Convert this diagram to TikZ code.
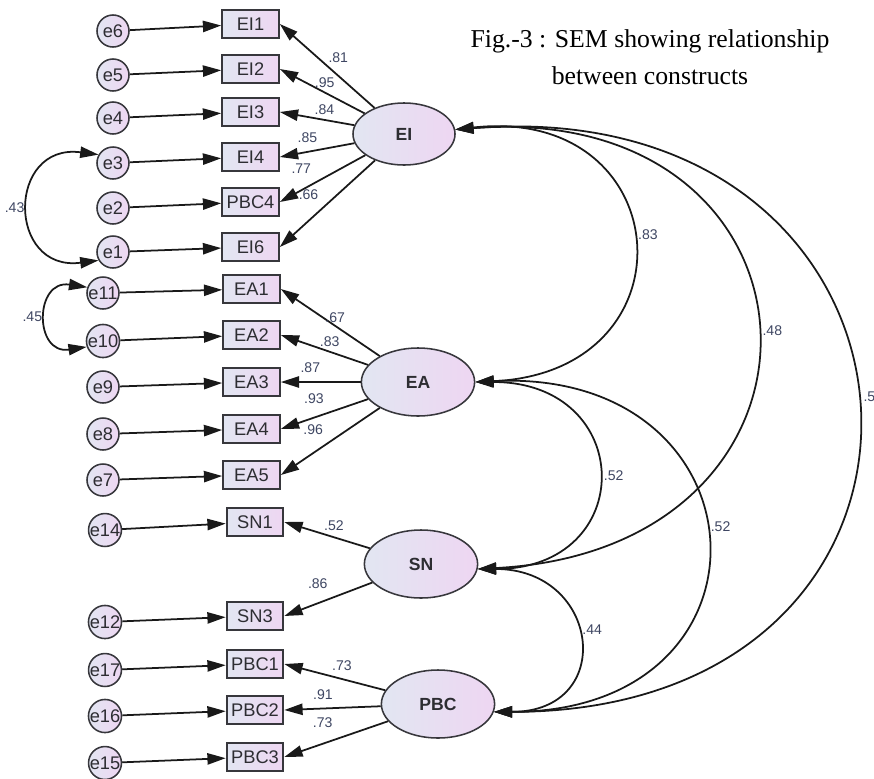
\documentclass[tikz,border=0pt]{standalone}
\usepackage{fontspec}
\setmainfont{Liberation Serif}
\setsansfont{Liberation Sans}
\usepackage{tikz}
\usetikzlibrary{shapes.geometric, positioning, arrows.meta}

\definecolor{linec}{RGB}{25,25,25}
\definecolor{boxline}{RGB}{55,55,60}
\definecolor{numc}{RGB}{62,70,98}
\definecolor{fillL}{RGB}{226,230,242}
\definecolor{fillR}{RGB}{238,214,242}
\definecolor{txtc}{RGB}{45,45,50}

\tikzset{
>={Triangle[length=13pt,width=8pt]}, % solid heads as in amos output
indicator/.style={draw=boxline, line width=1.3pt, left color=fillL, right color=fillR, minimum width=1.42cm, minimum height=0.7cm, inner sep=0pt, font=\sffamily\fontsize{13}{15}\selectfont, text=txtc}, % observed items
err/.style={circle, draw=boxline, line width=1.1pt, left color=fillL, right color=fillR, minimum size=0.8cm, inner sep=0pt, font=\sffamily\fontsize{13}{15}\selectfont, text=txtc}, % error terms
latent/.style={ellipse, draw=boxline, line width=1.1pt, left color=fillL, right color=fillR, minimum width=2.83cm, minimum height=1.7cm, inner sep=0pt, font=\sffamily\bfseries\fontsize{12.5}{14}\selectfont, text=txtc}, % constructs
loading/.style={->, draw=linec, line width=1.25pt}, % one-headed paths
cov/.style={<->, draw=linec, line width=1.25pt}, % correlations
lbl/.style={font=\sffamily\fontsize{10}{12}\selectfont, text=numc, inner sep=1pt}, % estimates
figtitle/.style={align=center, font=\fontsize{18.3}{26.3}\selectfont}, % caption
}

\begin{document}
\begin{tikzpicture}[x=0.025cm, y=-0.025cm]
\useasboundingbox (0,0) rectangle (874,778);

\node[figtitle] (ttl) at (650,57) {Fig.-3 : SEM showing relationship\\between constructs};

% constructs
\node[latent, minimum width=2.55cm, minimum height=1.55cm] (EI) at (404,134) {EI};
\node[latent] (EA) at (418,382) {EA};
\node[latent] (SN) at (421,564) {SN};
\node[latent] (PBC) at (438,704) {PBC};

% items
\node[indicator] (EI1) at (250.5,24) {EI1};
\node[indicator] (EI2) at (250.5,69) {EI2};
\node[indicator] (EI3) at (250.5,112) {EI3};
\node[indicator] (EI4) at (250.5,157) {EI4};
\node[indicator] (PBC4) at (250.5,202) {PBC4};
\node[indicator] (EI6) at (250.5,247) {EI6};
\node[indicator] (EA1) at (251.5,289) {EA1};
\node[indicator] (EA2) at (251.5,335) {EA2};
\node[indicator] (EA3) at (251.5,382) {EA3};
\node[indicator] (EA4) at (251.5,429) {EA4};
\node[indicator] (EA5) at (251.5,475) {EA5};
\node[indicator] (SN1) at (255,522) {SN1};
\node[indicator] (SN3) at (255,616) {SN3};
\node[indicator] (PBC1) at (255,664) {PBC1};
\node[indicator] (PBC2) at (255,710) {PBC2};
\node[indicator] (PBC3) at (255,757) {PBC3};

% errors
\node[err] (e6) at (113,31) {e6};
\node[err] (e5) at (113,75) {e5};
\node[err] (e4) at (113,118) {e4};
\node[err] (e3) at (113,163) {e3};
\node[err] (e2) at (113,208) {e2};
\node[err] (e1) at (113,252) {e1};
\node[err] (e11) at (103,293) {e11};
\node[err] (e10) at (103,341) {e10};
\node[err] (e9) at (103,387) {e9};
\node[err] (e8) at (103,434) {e8};
\node[err] (e7) at (103,480) {e7};
\node[err] (e14) at (105,530) {e14};
\node[err] (e12) at (105,622) {e12};
\node[err] (e17) at (105,670) {e17};
\node[err] (e16) at (105,716) {e16};
\node[err] (e15) at (105,763) {e15};

\draw[loading] (e6) -- (EI1);
\draw[loading] (e5) -- (EI2);
\draw[loading] (e4) -- (EI3);
\draw[loading] (e3) -- (EI4);
\draw[loading] (e2) -- (PBC4);
\draw[loading] (e1) -- (EI6);
\draw[loading] (e11) -- (EA1);
\draw[loading] (e10) -- (EA2);
\draw[loading] (e9) -- (EA3);
\draw[loading] (e8) -- (EA4);
\draw[loading] (e7) -- (EA5);
\draw[loading] (e14) -- (SN1);
\draw[loading] (e12) -- (SN3);
\draw[loading] (e17) -- (PBC1);
\draw[loading] (e16) -- (PBC2);
\draw[loading] (e15) -- (PBC3);

% loadings
\draw[loading] (EI) -- node[lbl, pos=.51, above right] {.81} (EI1.east);
\draw[loading] (EI) -- node[lbl, pos=.47, above=2pt] {.95} (EI2.east);
\draw[loading] (EI) -- node[lbl, pos=.40, above=2pt] {.84} (EI3.east);
\draw[loading] (EI) -- node[lbl, pos=.63, above=5pt] {.85} (EI4.east);
\draw[loading] (EI) -- node[lbl, pos=.55, above left=5pt] {.77} (PBC4.east);
\draw[loading] (EI) -- node[lbl, pos=.53, above left=4pt] {.66} (EI6.east);
\draw[loading] (EA) -- node[lbl, pos=.45, above=1pt] {.67} (EA1.east);
\draw[loading] (EA) -- node[lbl, pos=.44, above=2pt] {.83} (EA2.east);
\draw[loading] (EA) -- node[lbl, pos=.63, above=5pt] {.87} (EA3.east);
\draw[loading] (EA) -- node[lbl, pos=.62, above=8pt] {.93} (EA4.east);
\draw[loading] (EA) -- node[lbl, pos=.50, above left=5pt] {.96} (EA5.east);
\draw[loading] (SN) -- node[lbl, pos=.42, above=3pt] {.52} (SN1.east);
\draw[loading] (SN) -- node[lbl, pos=.62, above=9pt] {.86} (SN3.east);
\draw[loading] (PBC) -- node[lbl, pos=.43, above=4pt] {.73} (PBC1.east);
\draw[loading] (PBC) -- node[lbl, pos=.60, above=5pt] {.91} (PBC2.east);
\draw[loading] (PBC) -- node[lbl, pos=.63, above=10pt] {.73} (PBC3.east);

% correlations
\draw[cov] (EI.5) .. controls +(223,-25) and +(223,-10) .. node[lbl, pos=.48, right=3pt] {.83} (EA.east);
\draw[cov] (EI.5) .. controls +(386,-30) and +(386,-20) .. node[lbl, pos=.5, right=3pt] {.48} (SN.-5);
\draw[cov] (EI.5) .. controls +(509,-40) and +(509,0) .. node[lbl, pos=.49, right=4pt] {.5} (PBC.-8);
\draw[cov] (EA.east) .. controls +(161,0) and +(161,0) .. node[lbl, pos=.5, right=3pt] {.52} (SN.-5);
\draw[cov] (EA.east) .. controls +(295,-15) and +(295,0) .. node[lbl, pos=.47, right=3pt] {.52} (PBC.-8);
\draw[cov] (SN.-5) .. controls +(123,0) and +(123,0) .. node[lbl, pos=.45, right=3pt] {.44} (PBC.-8);
\draw[cov] (e3.150) .. controls +(-92,-12) and +(-92,12) .. node[lbl, pos=.5, left=2pt] {.43} (e1.210);
\draw[cov] (e11.160) .. controls +(-53,-8) and +(-53,8) .. node[lbl, pos=.5, left=2pt] {.45} (e10.200);
\end{tikzpicture}
\end{document}
